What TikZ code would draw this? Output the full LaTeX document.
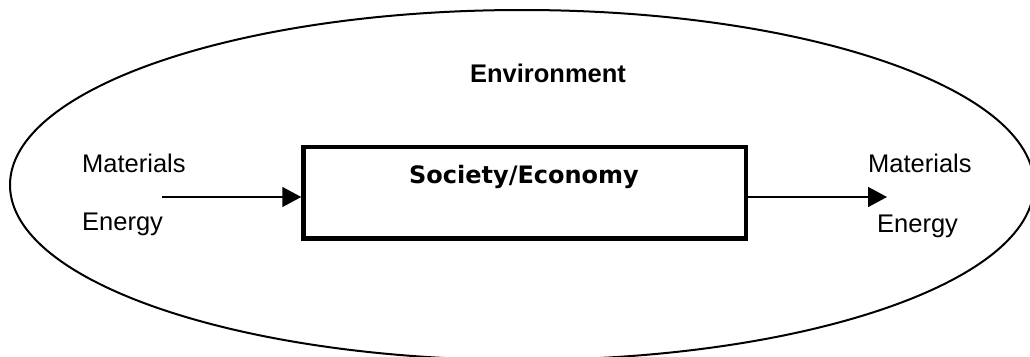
\documentclass[tikz,border=0pt]{standalone}
\usepackage{fontspec}
\setmainfont{Liberation Sans}
\newfontfamily\boxfont{DejaVu Sans}
\usetikzlibrary{arrows.meta}
\begin{document}
\begin{tikzpicture}[x=1pt, y=-1pt,
  lbl/.style={inner sep=0pt, font=\fontsize{25.5}{30}\selectfont},
  flow/.style={line width=1.6pt, -{Triangle[length=19pt, width=20pt]}},
  boundary/.style={line width=2pt},
  sysbox/.style={draw, line width=4.5pt, inner sep=0pt}]
  \useasboundingbox (0,0) rectangle (1030,356);
  \clip (0,0) rectangle (1030,356);
  \fill[white] (0,0) rectangle (1030,356);

  % environment boundary
  \draw[boundary] (522,185) ellipse [x radius=512, y radius=175];
  \node[lbl, font=\bfseries\fontsize{25.5}{30}\selectfont, anchor=base] (env) at (548,82) {Environment};

  % society / economy system
  \node[sysbox, minimum width=442.5pt, minimum height=91.7pt] (soc) at (524.75,192.85) {};
  \node[inner sep=0pt, anchor=base, font=\boxfont\bfseries\fontsize{24}{28}\selectfont] (soctext) at (524,183) {Society/Economy};

  % inputs
  \node[lbl, anchor=base west] (inmat) at (82,172) {Materials};
  \node[lbl, anchor=base west] (inen) at (82,230) {Energy};
  \coordinate (instart) at (162,197);
  \draw[flow] (instart) -- (soc.west |- instart);

  % outputs
  \node[lbl, anchor=base west] (outmat) at (868,172) {Materials};
  \node[lbl, anchor=base west] (outen) at (877,232) {Energy};
  \coordinate (outend) at (887,197);
  \draw[flow] (soc.east |- outend) -- (outend);
\end{tikzpicture}
\end{document}
